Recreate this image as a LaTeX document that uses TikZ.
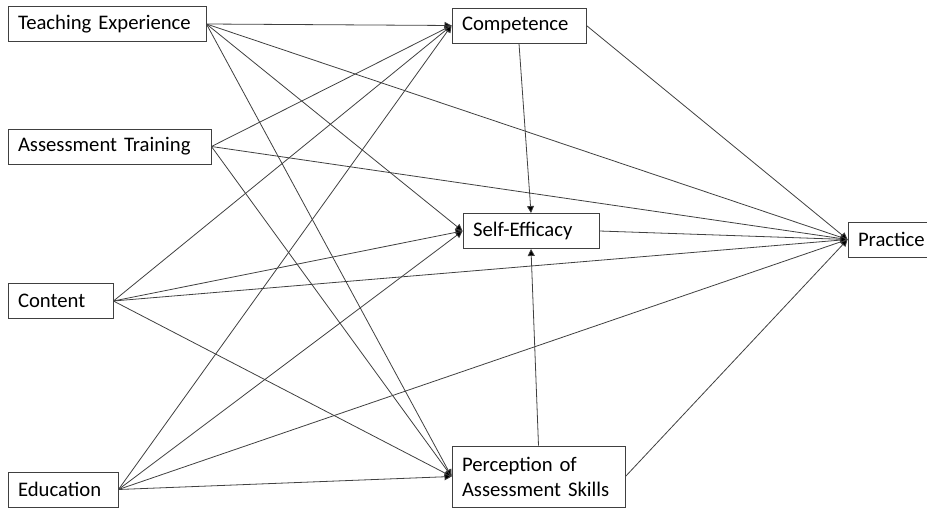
\documentclass[tikz,border=0pt]{standalone}
\usepackage{fontspec}
\setmainfont{Carlito}
\usetikzlibrary{arrows.meta}

\tikzset{
  box/.style={draw=black!75, line width=0.9pt, align=left, inner xsep=10pt,
    inner ysep=0pt, minimum height=35pt},
  link/.style={draw=black!75, line width=0.8pt,
    -{Triangle[length=7pt, width=7pt, fill=black]}},
}

\begin{document}
\begin{tikzpicture}[x=1pt, y=-1pt, font=\fontsize{20.7}{25}\selectfont]
        \useasboundingbox (0,0) rectangle (927,508);

        % predictors on the left
        \node[box, text width=178pt] (te) at (107,24) {Teaching Experience};
        \node[box, text width=183pt] (at) at (109.5,146.5) {Assessment Training};
        \node[box, text width=85pt] (cont) at (60.5,301) {Content};
        \node[box, text width=90pt] (edu) at (63,489.5) {Education};

        % mediators and outcome
        \node[box, text width=114pt] (comp) at (519,25.5) {Competence};
        \node[box, text width=116pt] (se) at (531,231) {Self-Efficacy};
        \node[box, text width=153pt, minimum height=61pt] (perc) at (538.5,476.5)
          {Perception of\\Assessment Skills};
        \node[box, text width=70pt] (prac) at (893,239.5) {Practice};

        \path (te.east) edge[link] (comp.west);
        \path (te.east) edge[link] (se.west);
        \path (te.east) edge[link] (perc.west);
        \path (te.east) edge[link] (prac.west);

        \path (at.east) edge[link] (comp.west);
        \path (at.east) edge[link] (perc.west);
        \path (at.east) edge[link] (prac.west);

        \path (cont.east) edge[link] (comp.west);
        \path (cont.east) edge[link] (se.west);
        \path (cont.east) edge[link] (perc.west);
        \path (cont.east) edge[link] (prac.west);

        \path (edu.east) edge[link] (comp.west);
        \path (edu.east) edge[link] (se.west);
        \path (edu.east) edge[link] (perc.west);
        \path (edu.east) edge[link] (prac.west);

        \path (comp.south) edge[link] (se.north);
        \path (perc.north) edge[link] (se.south);
        \path (comp.east) edge[link] (prac.west);
        \path (se.east) edge[link] (prac.west);
        \path (perc.east) edge[link] (prac.west);
      \end{tikzpicture}
\end{document}
